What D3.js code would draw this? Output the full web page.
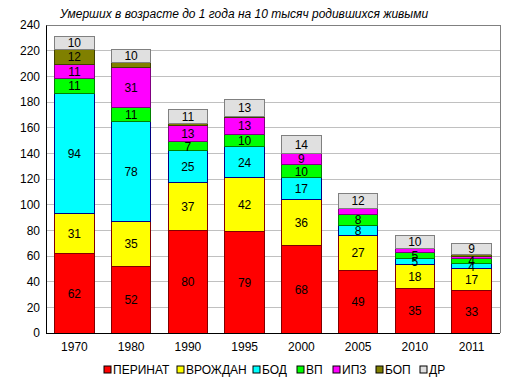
<!DOCTYPE html>
<html><head><meta charset="utf-8">
<script src="https://cdn.jsdelivr.net/npm/d3@7"></script>
<style>body{margin:0;background:#fff}svg{display:block;font-family:"Liberation Sans",Arial,sans-serif}</style>
</head><body><svg id="c" width="517" height="392"></svg>
<script>
const years = ["1970","1980","1990","1995","2000","2005","2010","2011"];
const seriesNames = ["ПЕРИНАТ","ВРОЖДАН","БОД","ВП","ИПЗ","БОП","ДР"];
const perinat = [62,52,80,79,68,49,35,33];
const vrozhdan = [31,35,37,42,36,27,18,17];
const bod = [94,78,25,24,17,8,5,4];
const vp = [11,11,7,10,10,8,5,4];
const ipz = [11,31,13,13,9,5,3,2];
const bop = [12,4,1,1,0,0,0,1];
const dr = [10,10,11,13,14,12,10,9];
const yTicks = [0,20,40,60,80,100,120,140,160,180,200,220,240];
const title = "Умерших в возрасте до 1 года на 10 тысяч родившихся живыми";
// labels not shown in the original for these [series, year]
const hiddenLabels = [["БОП","1980"],["ИПЗ","2005"]];

const fills = ["#FF0000","#FFFF00","#00FFFF","#00FF00","#FF00FF","#808000","#E0E0E0"];
const strokes = ["#800000","#800000","#000080","#008000","#800080","#404000","#808080"];

const values = [perinat,vrozhdan,bod,vp,ipz,bop,dr];
const rows = years.map((y,i)=>{const r={year:y};seriesNames.forEach((s,k)=>r[s]=values[k][i]);return r;});
const stacked = d3.stack().keys(seriesNames)(rows);

const svg = d3.select("#c");
const L=46,R=500,T=25,B=333;
const x = d3.scaleBand().domain(years).range([L,R]).paddingInner(0.3).paddingOuter(0.15);
const y = d3.scaleLinear().domain([0,240]).range([B,T]);

// grid
svg.append("g").selectAll("line").data(yTicks.filter(t=>t>0&&t<240)).join("line")
  .attr("x1",L).attr("x2",R).attr("y1",d=>y(d)).attr("y2",d=>y(d))
  .attr("stroke","#C0C0C0").attr("stroke-width",1).attr("shape-rendering","crispEdges");
// frame top/right
svg.append("path").attr("d",`M${L},${y(240)}H${R}V${B}`).attr("fill","none")
  .attr("stroke","#808080").attr("shape-rendering","crispEdges");

// bars
const g = svg.append("g");
stacked.forEach((layer,k)=>{
  g.append("g").selectAll("rect").data(layer.filter(d=>d[1]-d[0]>0)).join("rect")
   .attr("x",d=>x(d.data.year)).attr("width",x.bandwidth())
   .attr("y",d=>y(d[1])).attr("height",d=>y(d[0])-y(d[1]))
   .attr("fill",fills[k]).attr("stroke",strokes[k]).attr("stroke-width",1)
   .attr("shape-rendering","crispEdges");
});
// labels
stacked.forEach((layer,k)=>{
  const name = seriesNames[k];
  g.append("g").selectAll("text").data(layer.filter(d=>{
      const v=d[1]-d[0];
      if(v<4) return false;
      return !hiddenLabels.some(h=>h[0]===name&&h[1]===d.data.year);
    })).join("text")
   .attr("x",d=>x(d.data.year)+x.bandwidth()/2)
   .attr("y",d=>(y(d[0])+y(d[1]))/2)
   .attr("dy","0.36em").attr("text-anchor","middle")
   .attr("font-size",12).attr("fill","#000")
   .text(d=>d[1]-d[0]);
});

// axes
const ya = svg.append("g").attr("transform",`translate(${L},0)`)
  .call(d3.axisLeft(y).tickValues(yTicks).tickSize(0).tickPadding(6));
ya.select(".domain").attr("stroke","#000");
ya.selectAll("text").attr("font-size",12).attr("font-family","Liberation Sans, Arial, sans-serif").attr("fill","#000");
const xa = svg.append("g").attr("transform",`translate(0,${B})`)
  .call(d3.axisBottom(x).tickSize(0).tickPadding(9));
xa.select(".domain").attr("stroke","#000").attr("d",`M${L},0.5H${R}`);
xa.selectAll("text").attr("font-size",12).attr("font-family","Liberation Sans, Arial, sans-serif").attr("fill","#000");

// title
svg.append("text").attr("x",60).attr("y",18).attr("font-size",12).attr("font-style","italic")
  .attr("fill","#000").text(title);

// legend
const legX = [104,177,253,297,333,376,420];
const lg = svg.append("g");
seriesNames.forEach((s,k)=>{
  lg.append("rect").attr("x",legX[k]).attr("y",366).attr("width",7).attr("height",7)
    .attr("fill",fills[k]).attr("stroke","#000").attr("stroke-width",1);
  lg.append("text").attr("x",legX[k]+9).attr("y",370).attr("dy","0.36em")
    .attr("font-size",12).attr("fill","#000").text(s);
});
</script></body></html>
